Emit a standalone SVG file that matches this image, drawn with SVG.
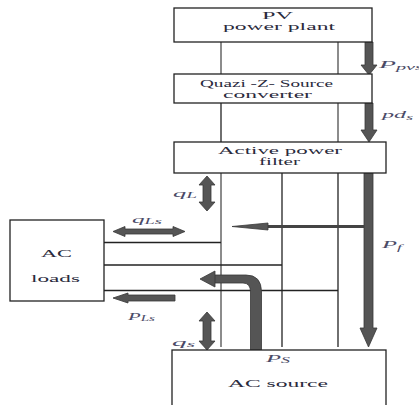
<svg xmlns="http://www.w3.org/2000/svg" width="419" height="405" viewBox="0 0 419 405">
<style>
.box{fill:#fff;stroke:#222;stroke-width:1.3}
.t{font-family:"Liberation Serif","Times New Roman",serif;font-size:10px;fill:#2a2a3c}
.lb{font-family:"Liberation Serif","Times New Roman",serif;font-size:11px;font-style:italic;fill:#4a4a66}
.sub{font-size:8px}
.arr{fill:#555;stroke:#383838;stroke-width:0.8;stroke-linejoin:round}
.ln{stroke:#222;stroke-width:1.3;fill:none}
.gl{stroke:#8c8c8c;stroke-width:2;fill:none}
</style>
<rect width="419" height="405" fill="#fff"/>
<g id="connectors">
  <line class="gl" x1="221" y1="42" x2="221" y2="74"/>
  <line class="gl" x1="338" y1="42" x2="338" y2="74" stroke="#777"/>
  <line class="ln" x1="221" y1="103" x2="221" y2="142"/>
  <line class="gl" x1="338" y1="103" x2="338" y2="142"/>
  <line class="gl" x1="221" y1="173" x2="221" y2="347" stroke-width="3" stroke="#9a9a9a"/>
  <line class="ln" x1="282" y1="173" x2="282" y2="347"/>
  <line class="ln" x1="338" y1="173" x2="338" y2="347" stroke-width="1.5"/>
  <line class="ln" x1="104" y1="242.5" x2="221" y2="242.5" stroke-width="1"/>
  <line class="ln" x1="104" y1="265" x2="282" y2="265" stroke-width="1"/>
  <line class="ln" x1="104" y1="290.5" x2="338" y2="290.5" stroke-width="1"/>
  <polygon class="arr" points="365,42 373,42 373,65 377,65 369,75 361,65 365,65"/>
  <polygon class="arr" points="365,103 373,103 373,130 377,130 369,142 361,130 365,130"/>
  <polygon class="arr" points="364,173 373,173 373,328 377,328 368.5,347 360,328 364,328"/>
  <line x1="364" y1="226.5" x2="266" y2="226.5" stroke="#444" stroke-width="3"/>
  <polygon class="arr" points="232,226.5 268,223 268,230"/>
  <polygon class="arr" points="207,176 215,185 211,185 211,202 215,202 207,211 199,202 203,202 203,185 199,185"/>
  <polygon class="arr" points="207,312 215,321 211,321 211,341 215,341 207,350 199,341 203,341 203,321 199,321"/>
  <polygon class="arr" points="113,231.5 125,226.5 125,229 173,229 173,226.5 185,231.5 173,236.5 173,234 125,234 125,236.5"/>
  <polygon class="arr" points="113,298 128,293 128,295 175,295 175,301 128,301 128,303"/>
  <path class="arr" d="M250.5,350 L250.5,292 Q250.5,283 243,283 L214,283 L214,275 L246,275 Q261.5,275 261.5,292 L261.5,350 Z"/>
  <polygon class="arr" points="200,279 215,271 215,287"/>
</g>
<g id="pv">
  <rect class="box" x="174" y="8" width="198" height="34"/>
  <text class="t" x="262" y="19" textLength="31" lengthAdjust="spacingAndGlyphs">PV</text>
  <text class="t" x="223" y="30" textLength="112" lengthAdjust="spacingAndGlyphs">power plant</text>
</g>
<g id="quazi">
  <rect class="box" x="174" y="74" width="198" height="29"/>
  <text class="t" x="200" y="87" textLength="133" lengthAdjust="spacingAndGlyphs">Quazi -Z- Source</text>
  <text class="t" x="223" y="98" textLength="89" lengthAdjust="spacingAndGlyphs">converter</text>
</g>
<g id="apf">
  <rect class="box" x="174" y="142" width="212" height="31"/>
  <text class="t" x="218" y="154" textLength="124" lengthAdjust="spacingAndGlyphs">Active power</text>
  <text class="t" x="259" y="165" textLength="41" lengthAdjust="spacingAndGlyphs">filter</text>
</g>
<g id="loads">
  <rect class="box" x="10" y="220" width="94" height="81"/>
  <text class="t" x="41" y="257" textLength="31" lengthAdjust="spacingAndGlyphs" font-size="12">AC</text>
  <text class="t" x="31" y="282" textLength="49" lengthAdjust="spacingAndGlyphs" font-size="12">loads</text>
</g>
<g id="source">
  <rect class="box" x="172" y="350" width="214" height="70"/>
  <text class="t" x="228" y="387" textLength="100" lengthAdjust="spacingAndGlyphs" font-size="12">AC source</text>
</g>
<g id="labels">
  <text class="lb" x="379" y="68" textLength="44" lengthAdjust="spacingAndGlyphs">P<tspan class="sub" dy="2">pvs</tspan></text>
  <text class="lb" x="382" y="118" textLength="31" lengthAdjust="spacingAndGlyphs">pd<tspan class="sub" dy="2">s</tspan></text>
  <text class="lb" x="382" y="248" textLength="20" lengthAdjust="spacingAndGlyphs">P<tspan class="sub" dy="2">f</tspan></text>
  <text class="lb" x="173" y="197" textLength="24" lengthAdjust="spacingAndGlyphs">q<tspan class="sub" dy="1">L</tspan></text>
  <text class="lb" x="132" y="223" textLength="30" lengthAdjust="spacingAndGlyphs">q<tspan class="sub" dy="1">Ls</tspan></text>
  <text class="lb" x="128" y="320" textLength="27" lengthAdjust="spacingAndGlyphs">P<tspan class="sub" dy="1">Ls</tspan></text>
  <text class="lb" x="172" y="346" textLength="23" lengthAdjust="spacingAndGlyphs">q<tspan class="sub" dy="1">s</tspan></text>
  <text class="lb" x="266" y="362" textLength="24" lengthAdjust="spacingAndGlyphs">P<tspan class="sub" dy="1">S</tspan></text>
</g>
</svg>
